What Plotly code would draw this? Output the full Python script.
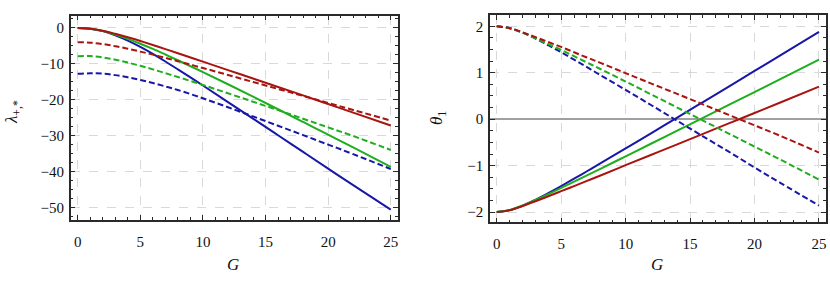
import plotly.graph_objects as go

# ---------------- data ----------------
G = [0, 1, 2, 3, 4, 5, 6, 7, 8, 10, 12, 14, 16, 18, 20, 22, 25]

# left panel: lambda_{+,*}
lam_red_solid = [0, -0.2, -0.8, -1.65, -2.6, -3.65, -4.75, -5.9, -7.05, -9.4, -11.75, -14.1, -16.45, -18.8, -21.2, -23.6, -27.2]
lam_green_solid = [0, -0.2, -0.85, -1.85, -3.05, -4.4, -5.85, -7.4, -9.0, -12.3, -15.7, -19.15, -22.65, -26.2, -29.75, -33.3, -38.7]
lam_blue_solid = [0, -0.2, -0.9, -2.05, -3.55, -5.3, -7.25, -9.35, -11.55, -16.05, -20.65, -25.25, -29.9, -34.55, -39.2, -43.8, -50.6]
lam_red_dash = [-4.0, -4.1, -4.5, -5.1, -5.8, -6.6, -7.45, -8.35, -9.27, -11.17, -13.1, -15.05, -17.0, -18.95, -20.9, -22.85, -25.8]
lam_green_dash = [-7.9, -7.85, -8.2, -8.85, -9.65, -10.55, -11.55, -12.6, -13.68, -15.9, -18.2, -20.55, -22.9, -25.3, -27.7, -30.1, -34.0]
lam_blue_dash = [-12.8, -12.65, -12.75, -13.15, -13.75, -14.5, -15.35, -16.3, -17.3, -19.6, -22.1, -24.65, -27.25, -29.85, -32.5, -35.15, -39.3]

# right panel: theta_1
th_red_solid = [-2.0, -1.958, -1.869, -1.767, -1.66, -1.55, -1.44, -1.328, -1.217, -0.99, -0.766, -0.543, -0.318, -0.092, 0.133, 0.359, 0.70]
th_green_solid = [-2.0, -1.957, -1.859, -1.74, -1.612, -1.48, -1.346, -1.21, -1.074, -0.80, -0.524, -0.248, 0.029, 0.306, 0.583, 0.861, 1.28]
th_blue_solid = [-2.0, -1.962, -1.865, -1.736, -1.592, -1.44, -1.282, -1.121, -0.959, -0.63, -0.30, 0.034, 0.368, 0.70, 1.038, 1.372, 1.88]
th_red_dash = [2.0, 1.958, 1.869, 1.767, 1.66, 1.555, 1.44, 1.328, 1.217, 0.99, 0.766, 0.543, 0.318, 0.092, -0.133, -0.359, -0.72]
th_green_dash = [2.0, 1.957, 1.86, 1.74, 1.615, 1.49, 1.355, 1.22, 1.085, 0.81, 0.53, 0.25, -0.03, -0.31, -0.59, -0.87, -1.30]
th_blue_dash = [2.0, 1.962, 1.865, 1.736, 1.59, 1.44, 1.28, 1.12, 0.955, 0.63, 0.30, -0.035, -0.37, -0.70, -1.04, -1.37, -1.86]

x_ticks = [0, 5, 10, 15, 20, 25]
left_y_ticks = [0, -10, -20, -30, -40, -50]
right_y_ticks = [-2, -1, 0, 1, 2]

BLUE = "#1818a8"
GREEN = "#1eae1e"
RED = "#a81410"

fig = go.Figure()

def add(x, y, color, dash, xa, ya):
    fig.add_trace(go.Scatter(
        x=x, y=y, mode="lines", xaxis=xa, yaxis=ya, showlegend=False,
        line=dict(color=color, width=2, dash=dash, shape="spline", smoothing=1.0),
        hoverinfo="skip"))

for ys, c in [(lam_blue_solid, BLUE), (lam_green_solid, GREEN), (lam_red_solid, RED)]:
    add(G, ys, c, "solid", "x", "y")
for ys, c in [(lam_blue_dash, BLUE), (lam_green_dash, GREEN), (lam_red_dash, RED)]:
    add(G, ys, c, "6px,3px", "x", "y")
for ys, c in [(th_blue_solid, BLUE), (th_green_solid, GREEN), (th_red_solid, RED)]:
    add(G, ys, c, "solid", "x2", "y2")
for ys, c in [(th_blue_dash, BLUE), (th_green_dash, GREEN), (th_red_dash, RED)]:
    add(G, ys, c, "6px,3px", "x2", "y2")

FONT = "Liberation Serif"
tickfont = dict(family=FONT, size=15, color="#111")

def axis_common(**kw):
    d = dict(showline=True, linecolor="#2a2a2a", linewidth=1.5, mirror="allticks",
             ticks="inside", ticklen=5, tickwidth=1, tickcolor="#2a2a2a",
             showgrid=True, gridcolor="#d9d9d9", griddash="dash", gridwidth=1,
             zeroline=False, tickfont=tickfont, fixedrange=True)
    d.update(kw)
    return d

minor_x = dict(dtick=1, tick0=0, ticks="inside", ticklen=3, tickcolor="#2a2a2a", showgrid=False)

fig.update_layout(
    width=830, height=285,
    margin=dict(l=0, r=0, t=0, b=0),
    paper_bgcolor="white", plot_bgcolor="white",
    xaxis=axis_common(domain=[0.0852, 0.4795], range=[-0.56, 25.58], anchor="y",
                      tickvals=x_ticks, minor=minor_x, ticklabelstandoff=7),
    yaxis=axis_common(domain=[0.2281, 0.9449], range=[-53.5, 3.4], anchor="x",
                      tickvals=left_y_ticks, ticklabelstandoff=2,
                      minor=dict(dtick=2.5, tick0=0, ticks="inside", ticklen=3, tickcolor="#2a2a2a", showgrid=False)),
    xaxis2=axis_common(domain=[0.5904, 0.9948], range=[-0.52, 25.52], anchor="y2",
                       tickvals=x_ticks, minor=minor_x, ticklabelstandoff=7),
    yaxis2=axis_common(domain=[0.22, 0.947], range=[-2.22, 2.24], anchor="x2",
                       tickvals=right_y_ticks, zeroline=True, zerolinecolor="#a0a0a0", zerolinewidth=1.5,
                       ticklabelstandoff=2,
                       minor=dict(dtick=0.25, tick0=0, ticks="inside", ticklen=3, tickcolor="#2a2a2a", showgrid=False)),
)

W, H = 830, 285
title_font = dict(family=FONT, size=17, color="#111")
common = dict(xref="paper", yref="paper", showarrow=False, xanchor="center", yanchor="middle", font=title_font)
fig.add_annotation(text="<i>G</i>", x=233 / W, y=1 - 264 / H, **common)
fig.add_annotation(text="<i>G</i>", x=657 / W, y=1 - 264 / H, **common)
fig.add_annotation(text="<i>λ</i><sub>+,*</sub>", x=13 / W, y=1 - 112 / H, textangle=-90, **common)
fig.add_annotation(text="<i>θ</i><sub>1</sub>", x=438 / W, y=1 - 118 / H, textangle=-90, **common)

fig.write_html("out.html", config={"displayModeBar": False},
               post_script="document.body.style.margin='0';document.body.style.overflow='hidden';")
